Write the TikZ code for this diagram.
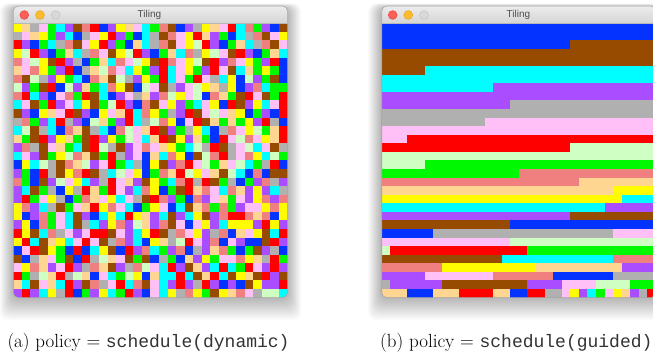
\documentclass[tikz,border=0pt]{standalone}
\usepackage{fontspec}
\newfontfamily\titlefont{Liberation Sans}
\newfontfamily\capmono{Liberation Mono}
\definecolor{cR}{HTML}{FF0000}
\definecolor{cN}{HTML}{00F900}
\definecolor{cL}{HTML}{0433FF}
\definecolor{cY}{HTML}{FFFB00}
\definecolor{cC}{HTML}{00FDFF}
\definecolor{cU}{HTML}{AA4CFF}
\definecolor{cB}{HTML}{964B00}
\definecolor{cS}{HTML}{F08080}
\definecolor{cG}{HTML}{B0B0B0}
\definecolor{cK}{HTML}{FFC0F8}
\definecolor{cP}{HTML}{FFD592}
\definecolor{cW}{HTML}{D0FFC4}
\definecolor{tbtop}{HTML}{ECECEC}
\definecolor{tbbot}{HTML}{D5D5D5}
\definecolor{frame}{HTML}{A5A5A5}
\definecolor{titlegray}{HTML}{4D4D4D}
\definecolor{btnred}{HTML}{FF5F57}
\definecolor{btnredrim}{HTML}{E2463F}
\definecolor{btnyel}{HTML}{FFBD2E}
\definecolor{btnyelrim}{HTML}{E1A116}
\definecolor{btnoff}{HTML}{D8D8D8}
\definecolor{btnoffrim}{HTML}{C4C4C4}
\definecolor{capgray}{HTML}{333333}
\makeatletter
\newcount\tcol
\newcommand\lrow[3]{% #1 x origin, #2 row, #3 letters
  \global\tcol=0
  \@tfor\tc:=#3\do{%
    \fill[c\tc] ({#1+\the\tcol*8.5714},{23.3+#2*8.5714}) rectangle ++(8.66,8.66);%
    \global\advance\tcol by 1 }}
\makeatother
\newcommand\rseg[4]{\fill[c#4] ({381.7+#2*8.5714},{23.3+#1*8.5714}) rectangle ({381.7+#3*8.5714+0.1},{23.3+#1*8.5714+8.66});}
\tikzset{
  winborder/.style={draw=frame, line width=0.6pt},
  sepline/.style={draw=frame!80, line width=0.4pt},
  titletext/.style={font=\titlefont\fontsize{10}{12}\selectfont, text=titlegray, inner sep=0},
  captext/.style={anchor=base west, inner sep=0, font=\fontsize{19}{22}\selectfont},
  btn/.style={circle, minimum size=8.8pt, inner sep=0, line width=0.5pt},
  redbtn/.style={btn, fill=btnred, draw=btnredrim},
  yelbtn/.style={btn, fill=btnyel, draw=btnyelrim},
  offbtn/.style={btn, fill=btnoff, draw=btnoffrim},
}
\begin{document}
\begin{tikzpicture}[x=1pt,y=-1pt]
\useasboundingbox (0,0) rectangle (653,355);
\clip (0,0) rectangle (653,355);
\fill[white] (0,0) rectangle (653,355);
% shadows
\foreach \xa/\xb in {13.3/287.6, 381.7/656}{
  \foreach \i in {1,...,18}{
    \fill[black, opacity=0.014, rounded corners=8pt] (\xa-\i*0.75, 8-\i*0.25) rectangle (\xb+\i*0.75, 297.6+\i*1.25);
  }
}
% ---------- left window ----------
\begin{scope}
\clip[rounded corners=5pt] (13.3,6) rectangle (287.6,297.6);
\shade[top color=tbtop, bottom color=tbbot] (13.3,6) rectangle (287.6,23.3);
\lrow{13.3}{0}{YPGKNCUBSRLUYPKCNSBLUGYPKRCSNULB}
\lrow{13.3}{1}{GKPYNUCLGKYRUNLCGBSKYRPUNLCGSBKY}
\lrow{13.3}{2}{RULNCGSBKYRUNLPCGSBKYWRULNPCGSBK}
\lrow{13.3}{3}{YWRULNPCGSKBYWRULNPCSGYWKBRULNPC}
\lrow{13.3}{4}{SKWYBRUGLNPCSKWYBRSKYWBRUSKYNURL}
\lrow{13.3}{5}{PKSYNURLGPWSKCYNURCKYNURKBCPNYNL}
\lrow{13.3}{6}{SBWGUYNCLSPBWGUYNRCKNRKGCYLWUNBL}
\lrow{13.3}{7}{WUNBRLWUPNCSYBLWKBGUKWYPGYLUSCNN}
\lrow{13.3}{8}{SRCULKSNRBCLUKGPUSWYKWLSPNBRKBNR}
\lrow{13.3}{9}{CKBNRUKCYBNWRULSBKYUNCKYLRBUYCKR}
\lrow{13.3}{10}{BULYPKRBULYKPRCSYNGURBKWKPYLNULR}
\lrow{13.3}{11}{GSNUCRGULWPNURCGWSYLKRBPNPNYURGL}
\lrow{13.3}{12}{CWBGCLSPBGCLSWKPRBUNGYCLGSKYWNPR}
\lrow{13.3}{13}{PNBRUYPNBRUYNWKCPRBYUPNLRKWSKYPR}
\lrow{13.3}{14}{USGBKPNCBRWGBUKSKPYNCWGRBGKWCKBG}
\lrow{13.3}{15}{CKUBNYWSPBNRGUKLPCSYLBWSRGKSYCWN}
\lrow{13.3}{16}{LYCWGBSPWUKRNCGLYBUSRKWNPKWCNGRL}
\lrow{13.3}{17}{UNLRGBYSRBGCWKYLNSPRWYKPBWCLSLBB}
\lrow{13.3}{18}{SNLBUWKYCUGRKPUBYNCSRGRBNGLNUSGU}
\lrow{13.3}{19}{UCBNGLYGRPNRKUCSYLNBRPSKCSPUYUCG}
\lrow{13.3}{20}{URNKYGLNSPKYCKGBRSUNLSUKPNKUYSUS}
\lrow{13.3}{21}{YSUCGBNKPRYSKCLNYKLCBPSNSNUKKYSY}
\lrow{13.3}{22}{YLUSNKCBULCYCRYPUCBUCYBUSRRSPSLY}
\lrow{13.3}{23}{UYLSNKCBGCUYSUWPUSBKLKYUCYYYURYU}
\lrow{13.3}{24}{RYBCSGKUKRRBKUCYRBGSKYUGSLPKYBCR}
\lrow{13.3}{25}{YRCBPYCKRKBGSUCLYPGWRKUSLKULLBRU}
\lrow{13.3}{26}{LKRBYNLRLCYBLRUSCNUSLGUPSNLNBUGL}
\lrow{13.3}{27}{BLGPKNBLRGWPKBNBLGNLPUYNKKSYPGRN}
\lrow{13.3}{28}{KYSPUKRUGSPBUGSWKCRUBPUCRCNRKURU}
\lrow{13.3}{29}{RNGWPRGWPLKCNWYLPCCRCBPRCBYPBRUB}
\lrow{13.3}{30}{PCBKPCRUBSGKRCSBKCURUGRULULBYUUR}
\lrow{13.3}{31}{URUCYGRLNUYCNRULKCYGSYNBYPSKGWWC}
\end{scope}
\draw[winborder, rounded corners=5pt] (13.3,6) rectangle (287.6,297.6);
\draw[sepline] (13.3,23.3) -- (287.6,23.3);
\node[redbtn] (redA) at (24.3,15) {};
\node[yelbtn] (yelA) at (40,15) {};
\node[offbtn] (offA) at (55.7,15) {};
\node[titletext] (titleA) at (149.5,15.3) {Tiling};
% ---------- right window ----------
\begin{scope}
\clip[rounded corners=5pt] (381.7,6) rectangle (656,297.6);
\shade[top color=tbtop, bottom color=tbbot] (381.7,6) rectangle (656,23.3);
\rseg{0}{0}{32}{L}
\rseg{1}{0}{32}{L}
\rseg{2}{0}{22}{L}
\rseg{2}{22}{32}{B}
\rseg{3}{0}{32}{B}
\rseg{4}{0}{32}{B}
\rseg{5}{0}{5}{B}
\rseg{5}{5}{32}{C}
\rseg{6}{0}{32}{C}
\rseg{7}{0}{13}{C}
\rseg{7}{13}{32}{U}
\rseg{8}{0}{32}{U}
\rseg{9}{0}{15}{U}
\rseg{9}{15}{32}{G}
\rseg{10}{0}{32}{G}
\rseg{11}{0}{12}{G}
\rseg{11}{12}{32}{K}
\rseg{12}{0}{32}{K}
\rseg{13}{0}{3}{K}
\rseg{13}{3}{32}{R}
\rseg{14}{0}{22}{R}
\rseg{14}{22}{32}{W}
\rseg{15}{0}{32}{W}
\rseg{16}{0}{5}{W}
\rseg{16}{5}{32}{N}
\rseg{17}{0}{16}{N}
\rseg{17}{16}{32}{S}
\rseg{18}{0}{23}{S}
\rseg{18}{23}{32}{P}
\rseg{19}{0}{27}{P}
\rseg{19}{27}{32}{Y}
\rseg{20}{0}{28}{Y}
\rseg{20}{28}{32}{C}
\rseg{21}{0}{26}{C}
\rseg{21}{26}{32}{U}
\rseg{22}{0}{22}{U}
\rseg{22}{22}{32}{B}
\rseg{23}{0}{15}{B}
\rseg{23}{15}{32}{L}
\rseg{24}{0}{6}{L}
\rseg{24}{6}{27}{G}
\rseg{24}{27}{32}{K}
\rseg{25}{0}{15}{K}
\rseg{25}{15}{32}{W}
\rseg{26}{0}{1}{W}
\rseg{26}{1}{17}{R}
\rseg{26}{17}{32}{N}
\rseg{27}{0}{14}{B}
\rseg{27}{14}{27}{C}
\rseg{27}{27}{32}{S}
\rseg{28}{0}{7}{S}
\rseg{28}{7}{18}{Y}
\rseg{28}{18}{28}{P}
\rseg{28}{28}{32}{U}
\rseg{29}{0}{5}{U}
\rseg{29}{5}{13}{K}
\rseg{29}{13}{20}{S}
\rseg{29}{20}{27}{L}
\rseg{29}{27}{32}{G}
\rseg{30}{0}{1}{G}
\rseg{30}{1}{7}{U}
\rseg{30}{7}{17}{B}
\rseg{30}{17}{21}{U}
\rseg{30}{21}{25}{K}
\rseg{30}{25}{29}{W}
\rseg{30}{29}{32}{N}
\lrow{381.7}{31}{PPPLLLPPPRRRRPPLLRRGGKYUCNKYPUGR}
\end{scope}
\draw[winborder, rounded corners=5pt] (381.7,6) rectangle (656,297.6);
\draw[sepline] (381.7,23.3) -- (656,23.3);
\node[redbtn] (redB) at (392.7,15) {};
\node[yelbtn] (yelB) at (408.3,15) {};
\node[offbtn] (offB) at (424,15) {};
\node[titletext] (titleB) at (518.5,15.3) {Tiling};
% ---------- captions ----------
\node[captext] (capA) at (7.3,347.5) {(a) policy = {\capmono\color{capgray}\fontsize{18}{20}\selectfont schedule(dynamic)}};
\node[captext] (capB) at (380,347.5) {(b) policy = {\capmono\color{capgray}\fontsize{18}{20}\selectfont schedule(guided)}};
\end{tikzpicture}
\end{document}
